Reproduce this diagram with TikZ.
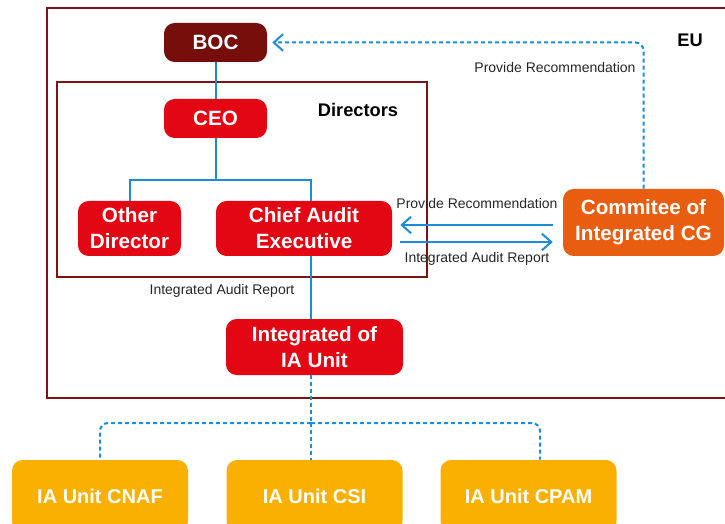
\documentclass[tikz,border=0pt]{standalone}
\usepackage{fontspec}
\setmainfont{Liberation Sans}
\usepackage{xcolor}
\usepackage{tikz}
\usetikzlibrary{arrows.meta,positioning,calc}
\definecolor{boardred}{RGB}{118,14,12}
\definecolor{unitred}{RGB}{227,6,19}
\definecolor{cgorange}{RGB}{232,93,15}
\definecolor{iayellow}{RGB}{249,176,0}
\definecolor{linkblue}{RGB}{27,141,214}
\definecolor{framered}{RGB}{123,21,21}

\begin{document}
\begin{tikzpicture}[
    x=0.75pt, y=-0.75pt,
    >={Straight Barb[length=7pt,width=12.5pt]},
    box/.style={rounded corners=8pt, text=white, font=\fontsize{15.5}{19.5}\selectfont\bfseries, align=center, inner sep=0pt},
    board/.style={box, fill=boardred, minimum width=77.25pt, minimum height=29.25pt},
    director/.style={box, fill=unitred, minimum height=41.25pt},
    committee/.style={box, fill=cgorange, minimum width=120.75pt, minimum height=50.25pt},
    unit/.style={box, fill=iayellow, minimum width=132pt, minimum height=54pt, font=\fontsize{15}{18}\selectfont\bfseries},
    frame/.style={draw=framered, line width=2pt, inner sep=0pt},
    link/.style={draw=linkblue, line width=1.5pt},
    dashlink/.style={link, dash pattern=on 3pt off 2.25pt},
    heading/.style={font=\fontsize{13.7}{16}\selectfont\bfseries},
    note/.style={font=\fontsize{10.5}{12}\selectfont, text=black!85}
]
\useasboundingbox (0,0) rectangle (725,524);

% frames
\node[frame, minimum width=523.5pt, minimum height=292.5pt] (eu) at (396,203) {};
\node[frame, minimum width=277.5pt, minimum height=146.25pt] (dir) at (242,179.5) {};
\node[heading] (eulbl) at (690,40) {EU};
\node[heading] (dirlbl) at (358,110) {Directors};

% boxes
\node[board] (boc) at (215.5,42.5) {BOC};
\node[board, fill=unitred] (ceo) at (215.5,118.5) {CEO};
\node[director, minimum width=77.25pt] (other) at (129.5,228.5) {Other\\Director};
\node[director, minimum width=132pt] (cae) at (304,228.5) {Chief Audit\\Executive};
\node[director, minimum width=132.75pt, minimum height=42pt] (iau) at (314.5,347) {Integrated of\\IA Unit};
\node[committee] (cg) at (643.5,222.5) {Commitee of\\Integrated CG};

\node[unit] (cnaf) at (100,496) {IA Unit CNAF};
\node[unit] (csi) at (314.5,496) {IA Unit CSI};
\node[unit] (cpam) at (528.5,496) {IA Unit CPAM};

% lines
\coordinate (spine) at (311,0);
\coordinate (fork) at (215.5,180);
\coordinate (split) at (311,423);

\draw[link] (boc) -- (ceo);
\draw[link] (ceo) -- (fork);
\draw[link] (fork) -| (other.north);
\draw[link] (fork) -| (cae.north -| spine);
\draw[link] (cae.south -| spine) -- (iau.north -| spine);

\draw[dashlink] (iau.south -| spine) -- (split);
\draw[dashlink, rounded corners=6pt] (split) -| (cnaf.north);
\draw[dashlink, rounded corners=6pt] (split) -| ([shift={(11.5,0)}]cpam.north);
\draw[dashlink] (split) -- (csi.north -| spine);

\draw[dashlink, ->, rounded corners=6pt] (cg.north) |- ([shift={(5,0)}]boc.east);
\draw[link, ->] ([shift={(-10,2.5)}]cg.west) -- ([shift={(8,-3.5)}]cae.east);
\draw[link, ->] ([shift={(8,13.5)}]cae.east) -- ([shift={(-10,19.5)}]cg.west);

% texts
\node[note] (rec1) at (555,67) {Provide Recommendation};
\node[note] (rec2) at (477,203) {Provide Recommendation};
\node[note] (rep1) at (477,259) {Integrated Audit Report};
\node[note] (rep2) at (222,291) {Integrated Audit Report};
\end{tikzpicture}
\end{document}
